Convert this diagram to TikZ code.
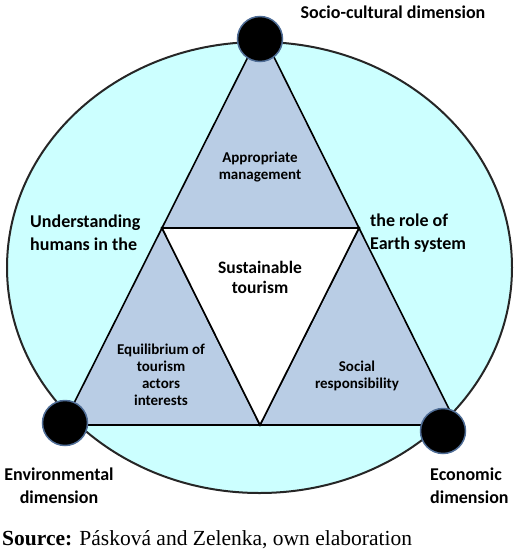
\documentclass[tikz,border=0pt]{standalone}
\usepackage{fontspec}
\setmainfont{Carlito}
\newfontfamily\srcfont{Liberation Serif}
\usetikzlibrary{calc}
\definecolor{skyfill}{RGB}{204,255,255}
\definecolor{steelfill}{RGB}{185,205,229}
\definecolor{dotrim}{RGB}{79,109,150}

\begin{document}
\begin{tikzpicture}[x=1pt,y=-1pt,
    dimlabel/.style={font=\bfseries\fontsize{18}{23}\selectfont, align=center, inner sep=0pt},
    innerlabel/.style={font=\bfseries\fontsize{15}{17}\selectfont, align=center, inner sep=0pt},
    corner/.style={circle, fill=black, draw=dotrim, line width=1.5pt, minimum size=45pt, inner sep=0pt}]
    \useasboundingbox (0,0) rectangle (520,551);
    % outer ellipse
    \filldraw[fill=skyfill, draw=black!85, line width=2pt] (259.5,267.5) ellipse [x radius=252.5pt, y radius=225.5pt];
    % triangle corners and midpoints
    \coordinate (top) at (261,31);
    \coordinate (lft) at (63,425);
    \coordinate (rgt) at (457,425);
    \coordinate (ml) at ($(top)!0.5!(lft)$);
    \coordinate (mr) at ($(top)!0.5!(rgt)$);
    \coordinate (mb) at ($(lft)!0.5!(rgt)$);
    \filldraw[fill=steelfill, line width=1.6pt] (top) -- (ml) -- (mr) -- cycle;
    \filldraw[fill=steelfill, line width=1.6pt] (ml) -- (lft) -- (mb) -- cycle;
    \filldraw[fill=steelfill, line width=1.6pt] (mr) -- (mb) -- (rgt) -- cycle;
    \filldraw[fill=white, line width=1.6pt] (ml) -- (mr) -- (mb) -- cycle;
    % dimension dots
    \node[corner] (soc) at (260,39) {};
    \node[corner] (env) at (65,423) {};
    \node[corner] (eco) at (443,431) {};
    % labels
    \node[dimlabel] (soclbl) at (393,12) {Socio-cultural dimension};
    \node[dimlabel, align=left, anchor=west] (human) at (30,233) {Understanding\\humans in the};
    \node[dimlabel, align=left, anchor=west] (earth) at (370,233) {the role of\\Earth system};
    \node[dimlabel] (envlbl) at (59,486) {Environmental\\dimension};
    \node[dimlabel, align=left, anchor=west] (ecolbl) at (430,486) {Economic\\dimension};
    \node[innerlabel] (manage) at (260,167) {Appropriate\\management};
    \node[innerlabel, font=\bfseries\fontsize{17.5}{20}\selectfont] (sust) at (260,277) {Sustainable\\tourism};
    \node[innerlabel] (equil) at (161,375) {Equilibrium of\\tourism\\actors\\interests};
    \node[innerlabel] (social) at (357,376) {Social\\responsibility};
    \node[anchor=base west, inner sep=0pt, font=\srcfont\fontsize{21.5}{24}\selectfont] (source) at (2,545) {\textbf{Source:} Pásková and Zelenka, own elaboration};
\end{tikzpicture}
\end{document}
